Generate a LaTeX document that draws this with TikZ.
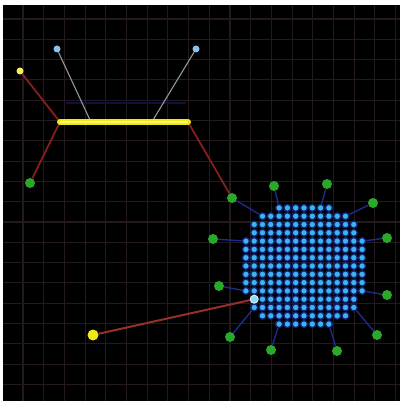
\documentclass[tikz,border=0pt]{standalone}
\usepackage{tikz}
\usetikzlibrary{calc}
\definecolor{gridcol}{RGB}{36,25,28}
\definecolor{linkred}{RGB}{135,30,30}
\definecolor{linkbrown}{RGB}{150,48,40}
\definecolor{cellblue}{RGB}{62,180,238}
\definecolor{cellrim}{RGB}{16,34,115}
\definecolor{spokeblue}{RGB}{30,42,140}
\definecolor{leafgreen}{RGB}{42,168,42}
\definecolor{baryellow}{RGB}{238,232,20}
\definecolor{skyblue}{RGB}{140,192,232}
\definecolor{wiregray}{RGB}{150,150,158}
\definecolor{navyline}{RGB}{16,16,62}

\tikzset{
  gridline/.style={gridcol,line width=1.1pt},
  cell/.style={circle,inner sep=0pt,minimum size=7pt,fill=cellblue,draw=cellrim,line width=1.3pt},
  picked/.style={circle,inner sep=0pt,minimum size=8pt,fill=cellblue!55!white,draw=white!80!cellblue,line width=1pt},
  leaf/.style={circle,inner sep=0pt,minimum size=10pt,fill=leafgreen},
  sky/.style={circle,inner sep=0pt,minimum size=7pt,fill=skyblue},
  tipdot/.style={circle,inner sep=0pt,minimum size=7pt,fill=baryellow!70!white},
  bigdot/.style={circle,inner sep=0pt,minimum size=11pt,fill=baryellow},
  redlink/.style={linkred,line width=1.8pt},
  spoke/.style={spokeblue,line width=1.4pt},
  wire/.style={wiregray,line width=1.1pt}
}

\begin{document}
\begin{tikzpicture}[x=1pt,y=-1pt]
        \fill[white] (0,0) rectangle (400,401);
        \fill[black] (3,5) rectangle (400,401);
        \useasboundingbox (0,0) rectangle (400,401);
        \foreach \k in {0,...,18} {
          \draw[gridline] ({23+20.7*\k},5) -- ({23+20.7*\k},401);
          \draw[gridline] (3,{19+20.3*\k}) -- (400,{19+20.3*\k});
        }
        \draw[navyline,line width=1.5pt] (66,103) -- (186,103);

        \node[tipdot] (ytop) at (20,71) {};
        \node[sky] (bleft) at (57,49) {};
        \node[sky] (bright) at (196,49) {};
        \coordinate (barL) at (60,122);
        \coordinate (barR) at (188,122);
        \coordinate (wireL) at (90,120);
        \coordinate (wireR) at (153,120);
        \node[leaf] (g0) at (30,183) {};
        \node[bigdot] (ybot) at (93,335) {};

        \foreach \i in {0,...,14}
          \foreach \j in {0,...,14} {
            \pgfmathtruncatemacro\dd{(\i-7)*(\i-7)+(\j-7)*(\j-7)}
            \ifnum\dd<62
              \node[cell] (c\i-\j) at ({304+8.3*(\i-7)},{266+8.3*(\j-7)}) {};
            \fi
          }
        \node[picked] (pick) at (c1-11) {};

        \foreach \gx/\gy/\ci/\cj [count=\n] in {232/198/2/1, 274/186/4/0, 327/184/9/0, 373/203/12/1, 387/238/14/4, 387/295/14/10, 377/335/13/12, 337/351/10/14, 271/350/4/14, 230/337/1/12, 219/286/0/10, 213/239/0/4} {
          \node[leaf] (g\n) at (\gx,\gy) {};
          \draw[spoke] (g\n) -- (c\ci-\cj);
        }

        \draw[wire] (bleft) -- (wireL);
        \draw[wire] (bright) -- (wireR);
        \draw[redlink] (ytop) -- (barL);
        \draw[redlink] (barL) -- (g0);
        \draw[redlink] (barR) -- (g1);
        \draw[linkbrown,line width=2pt] (ybot) -- (pick);
        \draw[baryellow,line width=6pt,line cap=round] (barL) -- (barR);
        \draw[yellow!60!white,line width=1.5pt] (barL) -- (barR);
\end{tikzpicture}
\end{document}
